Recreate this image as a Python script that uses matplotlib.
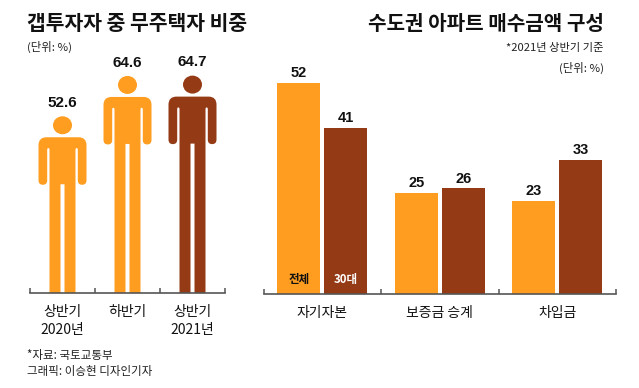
import matplotlib
matplotlib.use("Agg")
import matplotlib.pyplot as plt
from matplotlib.patches import Ellipse, PathPatch
from matplotlib.path import Path

plt.rcParams['font.family'] = ['Noto Sans CJK KR', 'DejaVu Sans']

W, H = 639, 388
ORANGE = '#FE9D20'
BROWN = '#943A14'
AXIS = '#555555'
NUM_FONT = ['Liberation Sans', 'Noto Sans CJK KR']

periods = ['상반기\n2020년', '하반기', '상반기\n2021년']
investor_share = [52.6, 64.6, 64.7]
person_colors = [ORANGE, ORANGE, BROWN]

sources = ['자기자본', '보증금 승계', '차입금']
overall = [52, 25, 23]
thirties = [41, 26, 33]


def make_axes(fig, x0, x1, y0, y1):
    return fig.add_axes([x0 / W, (H - y0) / H, (x1 - x0) / W, (y0 - y1) / H])


def style_axes(ax, labels):
    n = len(labels)
    ax.set_xlim(0, n)
    ax.patch.set_visible(False)
    for s in ['top', 'left', 'right']:
        ax.spines[s].set_visible(False)
    ax.spines['bottom'].set_color(AXIS)
    ax.spines['bottom'].set_linewidth(1.2)
    ax.set_yticks([])
    ax.set_xticks(range(n + 1))
    ax.set_xticklabels([])
    ax.tick_params(axis='x', which='major', direction='in', length=3.5, width=1.1, color=AXIS)
    ax.set_xticks([i + 0.5 for i in range(n)], minor=True)
    ax.set_xticklabels(labels, minor=True, fontsize=10, color='#111111', linespacing=1.4)
    ax.tick_params(axis='x', which='minor', length=0, pad=8.5)


def draw_person(ax, cx, value, color, sx, sy):
    # pixel offsets from the top of the head, legs run down to the baseline
    def pt(dx, dy):
        return (cx + dx / sx, value - dy / sy)

    ax.add_patch(Ellipse(pt(0, 9), 19 / sx, 18 / sy, fc=color, ec='none'))
    bottom = value * sy
    right = [(Path.LINETO, (16, 21)), (Path.CURVE3, (24, 21)), (Path.CURVE3, (24, 29)),
             (Path.LINETO, (24, 64)), (Path.CURVE3, (24, 68.5)), (Path.CURVE3, (19.6, 68.5)),
             (Path.CURVE3, (15.3, 68.5)), (Path.CURVE3, (15.3, 64)),
             (Path.LINETO, (15.3, 33)), (Path.CURVE3, (14.1, 30)), (Path.CURVE3, (13, 33)),
             (Path.LINETO, (13, bottom)), (Path.LINETO, (2, bottom)), (Path.LINETO, (2, 68))]
    codes = [Path.MOVETO]
    verts = [pt(0, 21)]
    for code, (dx, dy) in right:
        codes.append(code)
        verts.append(pt(dx, dy))
    # mirror the outline for the left side
    codes.append(Path.LINETO)
    verts.append(pt(-2, 68))
    rev = [(Path.LINETO, (-2, bottom)), (Path.LINETO, (-13, bottom)), (Path.LINETO, (-13, 33)),
           (Path.CURVE3, (-14.1, 30)), (Path.CURVE3, (-15.3, 33)), (Path.LINETO, (-15.3, 64)),
           (Path.CURVE3, (-15.3, 68.5)), (Path.CURVE3, (-19.6, 68.5)),
           (Path.CURVE3, (-24, 68.5)), (Path.CURVE3, (-24, 64)), (Path.LINETO, (-24, 29)),
           (Path.CURVE3, (-24, 21)), (Path.CURVE3, (-16, 21))]
    for code, (dx, dy) in rev:
        codes.append(code)
        verts.append(pt(dx, dy))
    codes.append(Path.CLOSEPOLY)
    verts.append(pt(0, 21))
    ax.add_patch(PathPatch(Path(verts, codes), fc=color, ec='none'))


def main():
    fig = plt.figure(figsize=(W / 100, H / 100), dpi=100)

    # left: people
    ax1 = make_axes(fig, 30, 225, 293, 40)
    sx1, sy1 = 65.0, 3.36
    ax1.set_ylim(0, 253 / sy1)
    style_axes(ax1, periods)
    for i, v in enumerate(investor_share):
        draw_person(ax1, i + 0.5, v, person_colors[i], sx1, sy1)
        ax1.annotate(f'{v}', (i + 0.5, v), xytext=(0, 4.5), textcoords='offset points', ha='center',
                     va='bottom', fontsize=11, fontweight='bold', family=NUM_FONT, color='#111111')

    # right: bars
    ax2 = make_axes(fig, 263.5, 616, 294, 40)
    ax2.set_ylim(0, 254 / 4.06)
    style_axes(ax2, sources)
    width = 0.362
    off = 0.2
    xs = [i + 0.5 for i in range(len(sources))]
    b1 = ax2.bar([x - off for x in xs], overall, width, color=ORANGE)
    b2 = ax2.bar([x + off for x in xs], thirties, width, color=BROWN)
    for bars in (b1, b2):
        for r in bars:
            ax2.annotate(f'{r.get_height():.0f}', (r.get_x() + r.get_width() / 2, r.get_height()),
                         xytext=(0, 2), textcoords='offset points', ha='center', va='bottom',
                         fontsize=10.5, fontweight='bold', family=NUM_FONT, color='#111111')
    ax2.text(xs[0] - off, 14.5 / 4.06, '전체', ha='center', va='center', fontsize=8.3,
             fontweight='bold', color='#111111')
    ax2.text(xs[0] + off, 14.5 / 4.06, '30대', ha='center', va='center', fontsize=8.3,
             fontweight='bold', color='white')

    def ftext(x, y, s, **kw):
        fig.text(x / W, 1 - y / H, s, va='center', **kw)

    ftext(27, 23, '갭투자자 중 무주택자 비중', fontsize=14.7, fontweight='bold', color='#111111')
    ftext(604, 24, '수도권 아파트 매수금액 구성', fontsize=14.5, fontweight='bold', color='#111111', ha='right')
    ftext(27, 47, '(단위: %)', fontsize=8.2, color='#222222')
    ftext(604, 48, '*2021년 상반기 기준', fontsize=8.1, color='#222222', ha='right')
    ftext(604, 68, '(단위: %)', fontsize=8.2, color='#222222', ha='right')
    ftext(27, 356, '*자료: 국토교통부', fontsize=8.3, color='#222222')
    ftext(27, 372, '그래픽: 이승현 디자인기자', fontsize=8.3, color='#222222')

    fig.savefig('out.png', dpi=100)


if __name__ == "__main__":
    main()
